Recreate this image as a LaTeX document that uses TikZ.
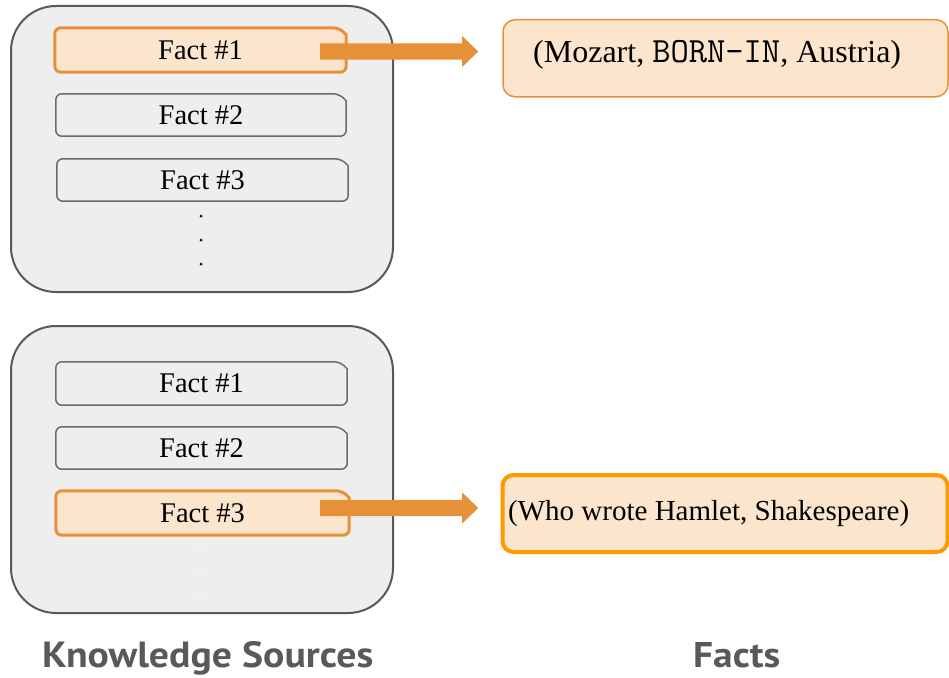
\documentclass[tikz,border=0pt]{standalone}
\usepackage{fontspec}
\setmainfont{Liberation Serif}
\newfontfamily\labelfont{PT Sans}
\usetikzlibrary{calc}
\definecolor{boxgray}{HTML}{EEEEEE}
\definecolor{outerline}{HTML}{595959}
\definecolor{factline}{HTML}{6B6B6B}
\definecolor{orangeline}{HTML}{E69138}
\definecolor{peach}{HTML}{FCE5CD}
\definecolor{brightorange}{HTML}{FF9900}
\definecolor{labelgray}{HTML}{595959}
\pgfdeclarelayer{bg}
\pgfdeclarelayer{mid}
\pgfsetlayers{bg,mid,main}
\newcommand\FactOutline[2]{%
  \filldraw[#1] ([xshift=-7pt]#2.north east) -- ([yshift=-7pt]#2.north east)
    [rounded corners=6pt] -- (#2.south east) -- (#2.south west) -- (#2.north west) -- cycle;}
\begin{document}
\begin{tikzpicture}[x=1pt,y=-1pt,
  outerbox/.style={draw=outerline, line width=2pt, fill=boxgray, rounded corners=45pt,
    minimum width=382pt, inner sep=0pt},
  factnode/.style={inner sep=0pt, minimum width=291pt, minimum height=43pt,
    font=\fontsize{28.5}{30}\selectfont},
  grayfact/.style={draw=factline, line width=1.5pt, fill=boxgray},
  orangefact/.style={draw=orangeline, line width=3pt, fill=peach},
  arrowc/.style={fill=orangeline},
  factbox/.style={fill=peach, inner sep=0pt, minimum width=445pt, minimum height=77pt},
  dotmark/.style={fill=black},
  wdotmark/.style={fill=white},
  labeltext/.style={anchor=base west, inner sep=0pt, text=labelgray}
]
\path[use as bounding box] (0,0) rectangle (949,677);

\begin{pgfonlayer}{bg}
  \node[outerbox, minimum height=286pt] (ks1) at (202,149) {};
  \node[outerbox, minimum height=287pt] (ks2) at (202,469.5) {};
\end{pgfonlayer}

% top knowledge source
\node[factnode, minimum width=291pt, minimum height=44pt] (f1) at (200.5,50) {Fact \#1};
\node[factnode, minimum width=290pt, minimum height=42pt] (f2) at (201,115) {Fact \#2};
\node[factnode, minimum width=291pt, minimum height=42pt] (f3) at (202.5,180) {Fact \#3};
% bottom knowledge source
\node[factnode, minimum width=291pt, minimum height=43pt] (g1) at (201.5,383.5) {Fact \#1};
\node[factnode, minimum width=291pt, minimum height=42pt] (g2) at (201.5,448) {Fact \#2};
\node[factnode, minimum width=293pt, minimum height=44pt] (g3) at (202.5,513) {Fact \#3};

\begin{pgfonlayer}{mid}
  \FactOutline{orangefact}{f1}
  \FactOutline{grayfact}{f2}
  \FactOutline{grayfact}{f3}
  \FactOutline{grayfact}{g1}
  \FactOutline{grayfact}{g2}
  \FactOutline{orangefact}{g3}
\end{pgfonlayer}

% dots
\fill[dotmark] ($(f3.south)+(-1.5,15)$) circle (1.5pt);
\fill[dotmark] ($(f3.south)+(-1.5,39)$) circle (1.5pt);
\fill[dotmark] ($(f3.south)+(-1.5,63)$) circle (1.5pt);
\fill[wdotmark] ($(g3.south)+(-2.5,15)$) circle (1.3pt);
\fill[wdotmark] ($(g3.south)+(-2.5,39)$) circle (1.3pt);
\fill[wdotmark] ($(g3.south)+(-2.5,63)$) circle (1.3pt);

% fact boxes on the right
\node[factbox, draw=orangeline, line width=1.5pt, rounded corners=12pt] (m) at (725.5,58.25) {};
\node[factbox, draw=brightorange, line width=4pt, rounded corners=11pt] (h) at (725,513.5) {};
\node[anchor=base west, inner sep=0pt, font=\fontsize{32}{34}\selectfont] (mt) at (533,63)
  {(Mozart, {\fontsize{35.5}{36}\ttfamily BORN-IN}, Austria)};
\node[anchor=base west, inner sep=0pt, font=\fontsize{29}{31}\selectfont] (ht) at (508,520)
  {(Who wrote Hamlet, Shakespeare)};

% arrows
\coordinate (a1) at ($(f1.east)+(-26,1.5)$);
\coordinate (a2) at ($(g3.east)+(-29,-5)$);
\fill[arrowc] (a1) ++(0,-8) -- ++(142,0) -- ++(0,-7.5) -- ++(16,15.5) -- ++(-16,15.5)
  -- ++(0,-7.5) -- ++(-142,0) -- cycle;
\fill[arrowc] (a2) ++(0,-8) -- ++(142,0) -- ++(0,-7.5) -- ++(16,15.5) -- ++(-16,15.5)
  -- ++(0,-7.5) -- ++(-142,0) -- cycle;

% labels
\node[labeltext] (lks) at (42,667) {\resizebox{331pt}{26pt}{\labelfont\bfseries Knowledge Sources}};
\node[labeltext] (lf) at (693,667) {\resizebox{87pt}{25pt}{\labelfont\bfseries Facts}};
\end{tikzpicture}
\end{document}
